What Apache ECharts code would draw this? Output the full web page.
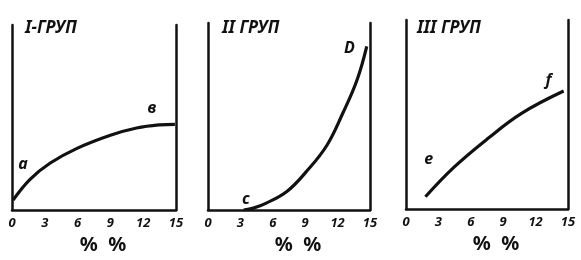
<!DOCTYPE html>
<html>
<head>
<meta charset="utf-8">
<script src="https://cdn.jsdelivr.net/npm/echarts@6/dist/echarts.min.js"></script>
<style>
  html, body { margin: 0; padding: 0; background: #fff; }
  #chart { width: 581px; height: 260px; }
</style>
</head>
<body>
<div id="chart"></div>
<script>
// данные по группам (ось x: %%, ось y: без шкалы, 0..100)
const xTicks = [0, 3, 6, 9, 12, 15]
const groupTitles = ['I-ГРУП', 'II ГРУП', 'III ГРУП']
const xName = '%  %'

const group1X = [0.1, 1.65, 3.5, 5.9, 9, 11.4, 13.5, 14.9]
const group1Y = [5.4, 16.6, 25.4, 33.2, 40.4, 44.3, 46, 46.3]
const group2X = [3.3, 4.2, 5.4, 7.3, 9.1, 11, 12.5, 13.8, 14.7]
const group2Y = [0, 1, 3.7, 9.9, 20.5, 34.5, 52, 69.5, 87.5]
const group3X = [1.8, 4.5, 7.6, 10.7, 14.6]
const group3Y = [6.5, 22.4, 37.4, 50.6, 62.4]

// подписи точек на кривых: [x, y, текст]
const group1Marks = [[1.0, 24.5, 'a'], [12.8, 54.7, 'в']]
const group2Marks = [[3.5, 5.8, 'c'], [13.1, 86.6, 'D']]
const group3Marks = [[2.1, 26, 'e'], [13.2, 68, 'f']]

const ink = '#111'
const handFont = 'Noto Sans'

const grids = [
  { left: 12, top: 25, width: 164, height: 192 },
  { left: 208, top: 23, width: 162, height: 189 },
  { left: 406, top: 20, width: 162, height: 189 }
]

const pairs = (xs, ys) => xs.map((x, i) => [x, ys[i]])

const xAxes = grids.map((g, i) => ({
  type: 'value',
  gridIndex: i,
  min: xTicks[0],
  max: xTicks[xTicks.length - 1],
  interval: 3,
  axisLine: { show: true, lineStyle: { color: ink, width: 2.5 } },
  axisTick: { show: false },
  splitLine: { show: false },
  axisLabel: {
    color: ink, fontFamily: handFont, fontWeight: 'bold', fontStyle: 'italic',
    fontSize: 13, margin: 7
  },
  name: xName,
  nameLocation: 'middle',
  nameGap: 25,
  nameTextStyle: {
    color: ink, fontFamily: handFont, fontWeight: 'bold', fontSize: 20,
    padding: [0, 0, 0, 18]
  }
}))

const yAxes = []
grids.forEach((g, i) => {
  ;['left', 'right'].forEach((pos) => {
    yAxes.push({
      type: 'value',
      gridIndex: i,
      position: pos,
      min: 0,
      max: 100,
      axisLine: { show: true, onZero: false, lineStyle: { color: ink, width: 2.5 } },
      axisTick: { show: false },
      axisLabel: { show: false },
      splitLine: { show: false }
    })
  })
})

const curves = [
  [group1X, group1Y, group1Marks],
  [group2X, group2Y, group2Marks],
  [group3X, group3Y, group3Marks]
]

const series = curves.map(([xs, ys, marks], i) => ({
  type: 'line',
  xAxisIndex: i,
  yAxisIndex: i * 2,
  data: pairs(xs, ys),
  smooth: 0.4,
  showSymbol: false,
  lineStyle: { color: ink, width: 3.2 },
  markPoint: {
    symbol: 'circle',
    symbolSize: 1,
    itemStyle: { color: 'transparent' },
    label: {
      show: true,
      position: 'inside',
      color: ink,
      fontFamily: handFont,
      fontWeight: 'bold',
      fontStyle: 'italic',
      fontSize: 16,
      formatter: (p) => p.name
    },
    data: marks.map((m) => ({ coord: [m[0], m[1]], name: m[2] }))
  }
}))

const titles = groupTitles.map((t, i) => ({
  text: t,
  left: [25, 222, 417][i],
  top: 20,
  padding: 0,
  textStyle: {
    color: ink, fontFamily: handFont, fontWeight: 'bold', fontStyle: 'italic', fontSize: 17
  }
}))

const chart = echarts.init(document.getElementById('chart'), null, { renderer: 'canvas' })
chart.setOption({
  backgroundColor: '#fff',
  animation: false,
  title: titles,
  grid: grids,
  xAxis: xAxes,
  yAxis: yAxes,
  series: series
})
</script>
</body>
</html>
